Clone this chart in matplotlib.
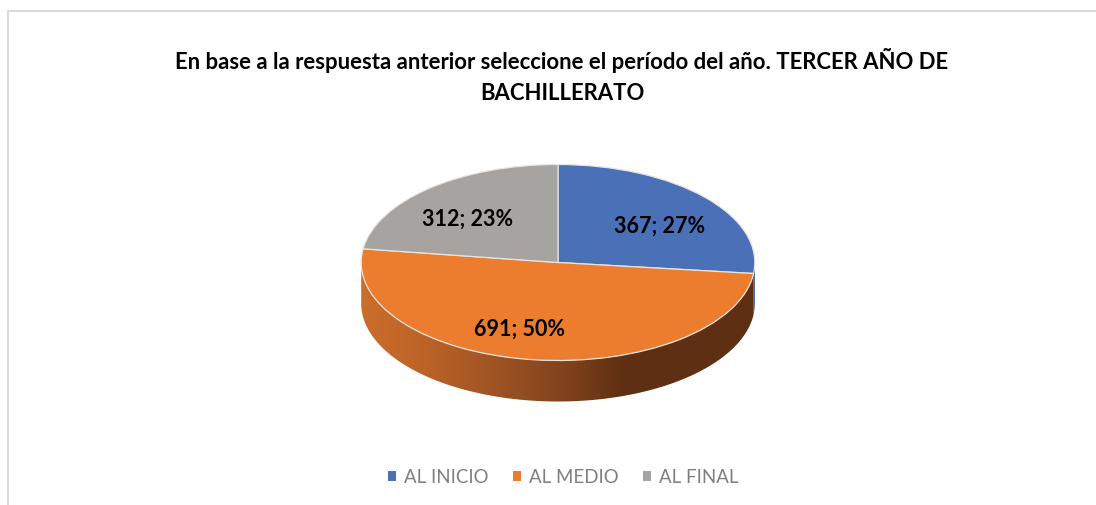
import numpy as np
import matplotlib
matplotlib.use('Agg')
import matplotlib.pyplot as plt
from matplotlib import colors
from matplotlib.patches import Polygon
from matplotlib.lines import Line2D

categories = ['AL INICIO', 'AL MEDIO', 'AL FINAL']
values = [367, 691, 312]
percents = [27, 50, 23]
slice_colors = ['#4A70B8', '#ED7D2E', '#A6A3A1']
blue_side = '#2F4A7D'
title = 'En base a la respuesta anterior seleccione el período del año. TERCER AÑO DE\nBACHILLERATO'

W, H = 1096, 506
CX, CY, RX, RY = 558.0, 263.5, 196.8, 98.0
DEPTH = 41.0 / RY

plt.rcParams['font.family'] = ['Lato', 'DejaVu Sans']

fig = plt.figure(figsize=(W / 100, H / 100), dpi=100, facecolor='white')
ax = fig.add_axes([0, 0, 1, 1])


def px(x, y):
    # picture pixels to pie units
    return (x - CX) / RX, (CY - y) / RY


def wall(a0, a1):
    t = np.radians(np.linspace(a0, a1, 200))
    top = np.column_stack([np.cos(t), np.sin(t)])
    low = top[::-1] - [0, DEPTH]
    return np.vstack([top, low])


# angle where the blue slice ends, clockwise from 12 o'clock
a_blue_end = 90 - 360 * values[0] / sum(values)

# side walls
ax.add_patch(Polygon(wall(a_blue_end, 0), closed=True, fc=blue_side, ec='none'))

grad = colors.LinearSegmentedColormap.from_list(
    'side', [(0, '#CB6E2C'), (0.16, '#BC6328'), (0.39, '#964F22'), (0.55, '#7A3F1A'),
             (0.67, '#5E2F12'), (1, '#5E2F12')])
img = ax.imshow(np.linspace(0, 1, 256)[None, :], cmap=grad, extent=(-1, 1, -2, 2),
                aspect='auto', zorder=1, interpolation='bilinear')
clip = Polygon(wall(180, a_blue_end + 360), closed=True, fc='none', ec='none',
               transform=ax.transData)
ax.add_patch(clip)
img.set_clip_path(clip)

wedges, _ = ax.pie(values, colors=slice_colors, startangle=90, counterclock=False, radius=1,
                   wedgeprops=dict(edgecolor='#E8E4DF', linewidth=0.9, zorder=3))

label_pos = [(660, 226), (519, 329), (468, 219)]
for v, p, pos in zip(values, percents, label_pos):
    x, y = px(*pos)
    ax.text(x, y, '%d; %d%%' % (v, p), ha='center', va='center', fontsize=15.5,
            fontweight='bold', color='black', zorder=5)

x, y = px(562, 76)
ax.text(x, y, title, ha='center', va='center', fontsize=15.9, fontweight='bold',
        color='black', linespacing=1.62, zorder=5)

# chart frame, only top and left show
x0, y0 = px(8, 12)
x1, _ = px(W, 12)
_, y1 = px(8, H)
ax.add_line(Line2D([x0, x1], [y0, y0], color='#D9D9D9', lw=1.4))
ax.add_line(Line2D([x0, x0], [y0, y1], color='#D9D9D9', lw=1.4))

leg = ax.legend(wedges, categories, loc='center', bbox_to_anchor=(563.5 / W, 1 - 478 / H),
                bbox_transform=fig.transFigure, ncol=3, frameon=False, fontsize=13.4,
                labelcolor='#7F7F7F', handlelength=0.42, handleheight=0.42,
                handletextpad=0.45, columnspacing=1.3, borderpad=0, borderaxespad=0)
for h, c in zip(leg.legend_handles, slice_colors):
    h.set_edgecolor('none')
    h.set_facecolor(c)

ax.set_aspect('auto')
ax.set_xlim(px(0, 0)[0], px(W, 0)[0])
ax.set_ylim(px(0, H)[1], px(0, 0)[1])
ax.axis('off')

fig.savefig('out.png', dpi=100, facecolor='white')
